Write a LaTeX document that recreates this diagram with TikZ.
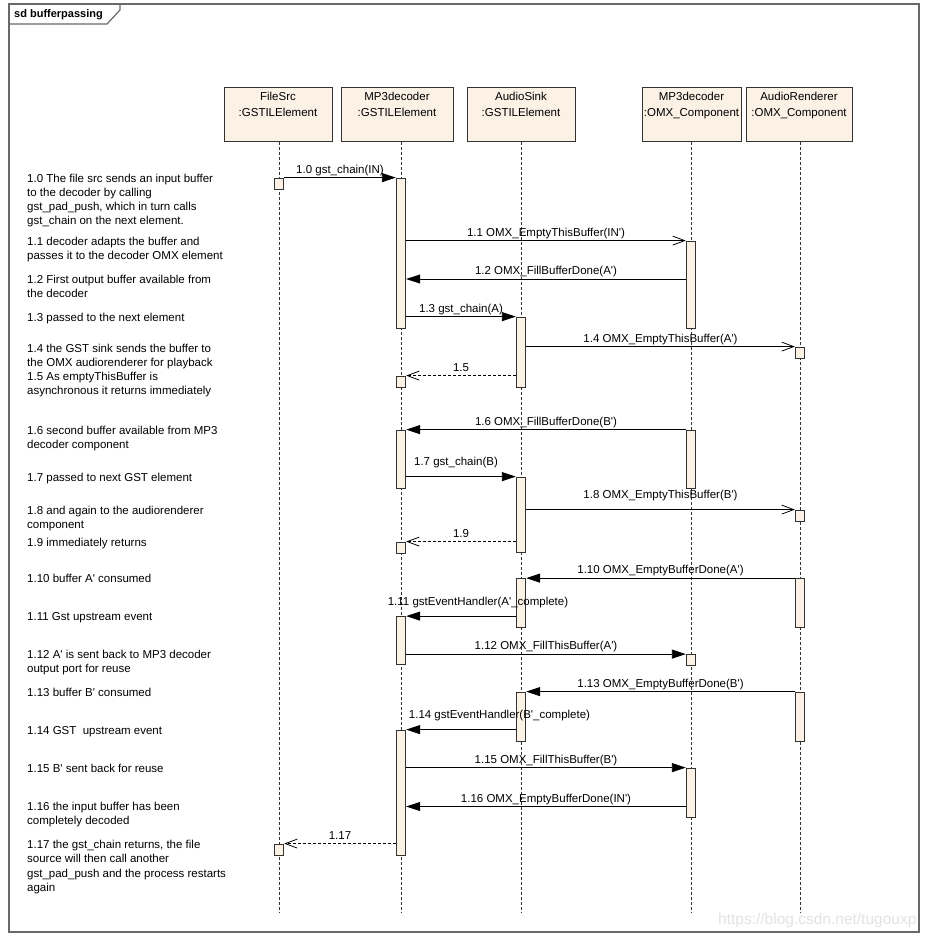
\documentclass[tikz,border=0pt]{standalone}
\usepackage{fontspec}
\setmainfont{Liberation Sans}[Ligatures=TeXOff]
\usetikzlibrary{arrows.meta}
\definecolor{boxfill}{RGB}{251,241,228}
\definecolor{framegray}{RGB}{105,105,105}
\definecolor{linegray}{RGB}{50,50,50}
\newcommand\fnote{\fontsize{11.5pt}{14pt}\selectfont}
\newcommand\fhead{\fontsize{11.5pt}{16pt}\selectfont}
\newcommand\headtext[3]{\parbox[t][54pt][t]{#1pt}{\centering\rule{0pt}{13pt}#2\\#3}}
\begin{document}
\begin{tikzpicture}[x=1pt, y=-1pt,
  head/.style={draw=linegray, line width=1pt, fill=boxfill, inner sep=0pt, anchor=north, font=\fhead},
  bar/.style={draw=linegray, line width=0.8pt, fill=boxfill, inner sep=0pt, minimum width=9.5pt},
  life/.style={draw=linegray, line width=0.8pt, dash pattern=on 3pt off 2pt},
  msg/.style={draw=black, line width=0.8pt},
  sync/.style={msg, -{Triangle[length=14pt,width=9pt]}},
  async/.style={msg, -{Straight Barb[length=12pt,width=9pt]}},
  ret/.style={async, dash pattern=on 3pt off 2pt},
  lbl/.style={font=\fnote, inner sep=0pt, text height=8.5pt, text depth=2.5pt, midway, above=1.5pt},
  hi/.style={above=6.5pt},
  note/.style={font=\fnote, inner sep=0pt, anchor=north west, align=left},
]
\useasboundingbox (0,0) rectangle (929,938);
\fill[white] (0,0) rectangle (929,938);

% frame
\draw[framegray, line width=1.2pt] (9,4) rectangle (919,932);
\draw[framegray, line width=1.2pt] (9,24) -- (107,24) -- (120,10) -- (120,4);
\node[font=\fontsize{11pt}{13pt}\selectfont\bfseries, anchor=west, inner sep=0pt] (title) at (14,15) {sd bufferpassing};

% watermark
\node[font=\fontsize{15.5pt}{18pt}\selectfont, text=black!11, anchor=west, inner sep=0pt] (wm) at (718,920) {https://blog.csdn.net/tugouxp};

% heads
\node[head] (fsH) at (278,87) {\headtext{108}{FileSrc}{:GSTILElement}};
\node[head] (mdH) at (397,87) {\headtext{112}{MP3decoder}{:GSTILElement}};
\node[head] (asH) at (521,87) {\headtext{108}{AudioSink}{:GSTILElement}};
\node[head] (odH) at (691.5,87) {\headtext{99}{MP3decoder}{:OMX\_Component}};
\node[head] (arH) at (799,87) {\headtext{106}{AudioRenderer}{:OMX\_Component}};

% lifeline ends
\coordinate (fsE) at (279,913);
\coordinate (mdE) at (401,913);
\coordinate (asE) at (521,913);
\coordinate (odE) at (691,913);
\coordinate (arE) at (800,913);
\draw[life] (fsH.south -| fsE) -- (fsE);
\draw[life] (mdH.south -| mdE) -- (mdE);
\draw[life] (asH.south -| asE) -- (asE);
\draw[life] (odH.south -| odE) -- (odE);
\draw[life] (arH.south -| arE) -- (arE);

% activation bars
\node[bar, minimum height=11]  (fs0) at (279,183.5) {};
\node[bar, minimum height=150] (md1) at (401,253) {};
\node[bar, minimum height=87]  (od1) at (691,284.5) {};
\node[bar, minimum height=70]  (as1) at (521,352) {};
\node[bar, minimum height=11]  (ar1) at (800,352.5) {};
\node[bar, minimum height=11]  (md2) at (401,381.5) {};
\node[bar, minimum height=58]  (od2) at (691,459) {};
\node[bar, minimum height=58]  (md3) at (401,459) {};
\node[bar, minimum height=75]  (as2) at (521,514.5) {};
\node[bar, minimum height=11]  (ar2) at (800,515.5) {};
\node[bar, minimum height=11]  (md4) at (401,547.5) {};
\node[bar, minimum height=48.5] (ar3) at (800,602.75) {};
\node[bar, minimum height=48.5] (as3) at (521,602.75) {};
\node[bar, minimum height=48]  (md5) at (401,640.5) {};
\node[bar, minimum height=10.5] (od3) at (691,659.75) {};
\node[bar, minimum height=49]  (ar4) at (800,716.5) {};
\node[bar, minimum height=49]  (as4) at (521,716.5) {};
\node[bar, minimum height=125] (md6) at (401,792.5) {};
\node[bar, minimum height=49]  (od4) at (691,792.5) {};
\node[bar, minimum height=11]  (fs1) at (279,849.5) {};

\coordinate (y12) at (0,279);
\coordinate (y116) at (0,806.5);

% messages
\draw[sync] (fs0.north east) -- node[lbl] {1.0 gst\_chain(IN)} (md1.north west);
\draw[async] (md1.east |- od1.north) -- node[lbl] {1.1 OMX\_EmptyThisBuffer(IN')} (od1.north west);
\draw[sync] (od1.west |- y12) -- node[lbl] {1.2 OMX\_FillBufferDone(A')} (md1.east |- y12);
\draw[sync] (md1.east |- as1.north) -- node[lbl] {1.3 gst\_chain(A)} (as1.north west);
\draw[async] (as1.east |- ar1.north) -- node[lbl] {1.4 OMX\_EmptyThisBuffer(A')} (ar1.north west);
\draw[ret] (as1.west |- md2.north) -- node[lbl] {1.5} (md2.north east);
\draw[sync] (od2.north west) -- node[lbl] {1.6 OMX\_FillBufferDone(B')} (md3.north east);
\draw[sync] (md3.east |- as2.north) -- node[lbl, hi, xshift=-5pt] {1.7 gst\_chain(B)} (as2.north west);
\draw[async] (as2.east |- ar2.north) -- node[lbl, hi] {1.8 OMX\_EmptyThisBuffer(B')} (ar2.north west);
\draw[ret] (as2.west |- md4.north) -- node[lbl] {1.9} (md4.north east);
\draw[sync] (ar3.north west) -- node[lbl] {1.10 OMX\_EmptyBufferDone(A')} (as3.north east);
\draw[sync] (as3.west |- md5.north) -- node[lbl, hi, xshift=17pt] {1.11 gstEventHandler(A'\_complete)} (md5.north east);
\draw[sync] (md5.east |- od3.north) -- node[lbl] {1.12 OMX\_FillThisBuffer(A')} (od3.north west);
\draw[sync] (ar4.north west) -- node[lbl] {1.13 OMX\_EmptyBufferDone(B')} (as4.north east);
\draw[sync] (as4.west |- md6.north) -- node[lbl, hi, xshift=38.5pt] {1.14 gstEventHandler(B'\_complete)} (md6.north east);
\draw[sync] (md6.east |- od4.north) -- node[lbl] {1.15 OMX\_FillThisBuffer(B')} (od4.north west);
\draw[sync] (od4.west |- y116) -- node[lbl] {1.16 OMX\_EmptyBufferDone(IN')} (md6.east |- y116);
\draw[ret] (md6.west |- fs1.north) -- node[lbl] {1.17} (fs1.north east);

% notes
\node[note] (n10) at (27,172.5) {\strut 1.0 The file src sends an input buffer\\to the decoder by calling\\gst\_pad\_push, which in turn calls\\gst\_chain on the next element.};
\node[note] (n11) at (27,235.5) {\strut 1.1 decoder adapts the buffer and\\passes it to the decoder OMX element};
\node[note] (n12) at (27,273) {\strut 1.2 First output buffer available from\\the decoder};
\node[note] (n13) at (27,311) {\strut 1.3 passed to the next element};
\node[note] (n14) at (27,342) {\strut 1.4 the GST sink sends the buffer to\\the OMX audiorenderer for playback};
\node[note] (n15) at (27,370) {\strut 1.5 As emptyThisBuffer is\\asynchronous it returns immediately};
\node[note] (n16) at (27,424) {\strut 1.6 second buffer available from MP3\\decoder component};
\node[note] (n17) at (27,471) {\strut 1.7 passed to next GST element};
\node[note] (n18) at (27,504) {\strut 1.8 and again to the audiorenderer\\component};
\node[note] (n19) at (27,536) {\strut 1.9 immediately returns};
\node[note] (n110) at (27,572) {\strut 1.10 buffer A' consumed};
\node[note] (n111) at (27,610) {\strut 1.11 Gst upstream event};
\node[note] (n112) at (27,648) {\strut 1.12 A' is sent back to MP3 decoder\\output port for reuse};
\node[note] (n113) at (27,686) {\strut 1.13 buffer B' consumed};
\node[note] (n114) at (27,724) {\strut 1.14 GST\ \ upstream event};
\node[note] (n115) at (27,762) {\strut 1.15 B' sent back for reuse};
\node[note] (n116) at (27,800) {\strut 1.16 the input buffer has been\\completely decoded};
\node[note, font=\fontsize{11.5pt}{14.4pt}\selectfont] (n117) at (27,838) {\strut 1.17 the gst\_chain returns, the file\\source will then call another\\gst\_pad\_push and the process restarts\\again};
\end{tikzpicture}
\end{document}
